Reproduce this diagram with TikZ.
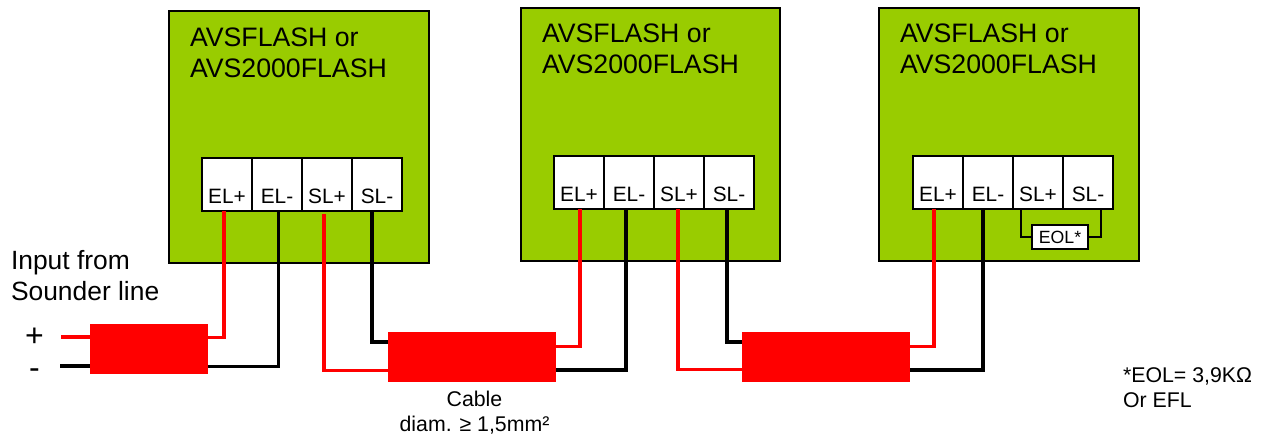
\documentclass[tikz,border=0pt]{standalone}
\usepackage{fontspec}
\setmainfont{Liberation Sans}
\usetikzlibrary{positioning}
\definecolor{avsgreen}{RGB}{153,204,0}

\tikzset{
  unitbox/.style={draw=black,line width=2pt,fill=avsgreen,inner sep=0pt,outer sep=0pt,
                  minimum width=259pt,minimum height=252pt,anchor=north west},
  unittext/.style={inner sep=0pt,outer sep=0pt,align=left,font=\fontsize{26.7}{31}\selectfont},
  terminal/.style={draw=black,line width=1.8pt,fill=white,inner sep=0pt,outer sep=0pt,
                   minimum width=50pt,minimum height=53pt,text height=46pt,text depth=7pt,
                   font=\fontsize{20.8}{24}\selectfont},
  cable/.style={fill=red,inner sep=0pt,outer sep=0pt,minimum height=49.5pt},
  redwire/.style={draw=red,line width=3.2pt},
  blackwire/.style={draw=black,line width=3.5pt},
  eolwire/.style={draw=black,line width=1.5pt},
  note/.style={inner sep=0pt,outer sep=0pt,align=left,font=\fontsize{21.3}{25}\selectfont}
}

\begin{document}
\begin{tikzpicture}[x=1pt,y=-1pt]
  \useasboundingbox (0,0) rectangle (1263,435);

  % units
  \node[unitbox,minimum width=260pt] (unitA) at (169,11) {};
  \node[unitbox,minimum height=253pt] (unitB) at (521,8) {};
  \node[unitbox,minimum height=253pt,minimum width=260pt] (unitC) at (879,8) {};

  \node[unittext,below right=16.5pt and 21pt of unitA.north west] (nameA) {AVSFLASH or\\AVS2000FLASH};
  \node[unittext,below right=16pt and 21pt of unitB.north west] (nameB) {AVSFLASH or\\AVS2000FLASH};
  \node[unittext,below right=16pt and 21pt of unitC.north west] (nameC) {AVSFLASH or\\AVS2000FLASH};

  % terminals
  \node[terminal,below right=147pt and 33pt of unitA.north west] (elpA) {EL+};
  \node[terminal,right=0pt of elpA] (elmA) {EL-};
  \node[terminal,right=0pt of elmA] (slpA) {SL+};
  \node[terminal,right=0pt of slpA] (slmA) {SL-};

  \node[terminal,below right=148pt and 33pt of unitB.north west] (elpB) {EL+};
  \node[terminal,right=0pt of elpB] (elmB) {EL-};
  \node[terminal,right=0pt of elmB] (slpB) {SL+};
  \node[terminal,right=0pt of slpB] (slmB) {SL-};

  \node[terminal,below right=148pt and 34pt of unitC.north west] (elpC) {EL+};
  \node[terminal,right=0pt of elpC] (elmC) {EL-};
  \node[terminal,right=0pt of elmC] (slpC) {SL+};
  \node[terminal,right=0pt of slpC] (slmC) {SL-};

  % cables
  \node[cable,minimum width=118pt,anchor=north west] (cableA) at (90,324) {};
  \node[cable,minimum width=168pt,anchor=north west] (cableB) at (388,332) {};
  \node[cable,minimum width=168pt,anchor=north west] (cableC) at (742,332) {};

  % input
  \coordinate (inP) at (61,337);
  \coordinate (inM) at (60,366);
  \draw[redwire] (inP) -- (inP -| cableA.west);
  \draw[blackwire] (inM) -- (inM -| cableA.west);

  % wires
  \draw[redwire] ([xshift=-3pt]elpA.south) |- ([yshift=11.5pt]cableA.east);
  \draw[blackwire] ([xshift=1.5pt]elmA.south) |- ([yshift=-17.5pt]cableA.east);
  \draw[redwire] ([xshift=-3pt,yshift=-3pt]slpA.south) |- ([yshift=-14pt]cableB.west);
  \draw[blackwire] ([xshift=-5pt]slmA.south) |- ([yshift=14.5pt]cableB.west);

  \draw[redwire] ([xshift=1pt]elpB.south) |- ([yshift=10pt]cableB.east);
  \draw[blackwire] ([xshift=-3pt]elmB.south) |- ([yshift=-13pt]cableB.east);
  \draw[redwire] ([xshift=-1pt]slpB.south) |- ([yshift=-13pt]cableC.west);
  \draw[blackwire] ([xshift=-2pt]slmB.south) |- ([yshift=14.5pt]cableC.west);

  \draw[redwire] ([xshift=-4pt]elpC.south) |- ([yshift=10pt]cableC.east);
  \draw[blackwire] ([xshift=-5pt]elmC.south) |- ([yshift=-13pt]cableC.east);

  % end of line
  \node[draw=black,line width=1.5pt,fill=white,inner sep=0pt,outer sep=0pt,minimum width=56pt,minimum height=24pt,
        font=\fontsize{17.7}{20}\selectfont,anchor=north west] (eol) at (1032,225) {EOL*};
  \draw[eolwire] ([xshift=-17pt]slpC.south) |- (eol.west);
  \draw[eolwire] ([xshift=13pt]slmC.south) |- (eol.east);

  % texts
  \node[unittext,font=\fontsize{26.4}{31}\selectfont,anchor=north west] (input) at (11,250) {Input from\\Sounder line};
  \node[left=17pt of inP,inner sep=0pt,font=\fontsize{32}{32}\selectfont] (plus) {+};
  \node[left=20pt of inM,yshift=-8pt,inner sep=0pt,font=\fontsize{32}{32}\selectfont] (minus) {-};
  \node[note,align=center,below=9.5pt of cableB.south,xshift=2.5pt] (cabletext) {Cable\\diam. ≥ 1,5mm²};
  \node[note,anchor=north west] (eoltext) at (1123,368) {*EOL= 3,9KΩ\\Or EFL};
\end{tikzpicture}
\end{document}
